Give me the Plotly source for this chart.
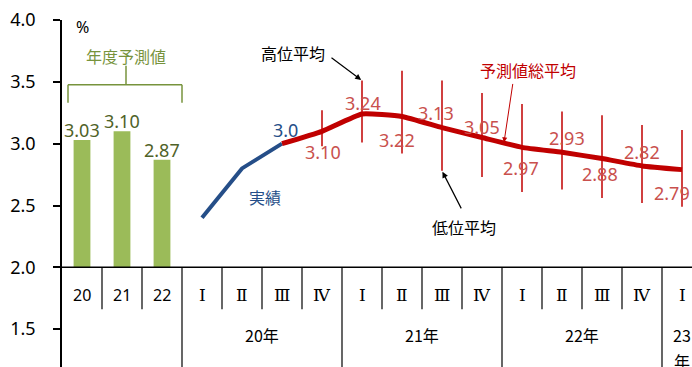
import plotly.graph_objects as go

# ---- data -------------------------------------------------------------
fy_labels = ["20", "21", "22"]
fy_values = [3.03, 3.10, 2.87]

quarter_labels = ["Ⅰ", "Ⅱ", "Ⅲ", "Ⅳ", "Ⅰ", "Ⅱ", "Ⅲ", "Ⅳ", "Ⅰ", "Ⅱ", "Ⅲ", "Ⅳ", "Ⅰ"]
year_labels = ["20年", "21年", "22年", "23年"]

actual_values = [2.40, 2.80, 3.00]                      # 20年 Ⅰ-Ⅲ
forecast_avg = [3.10, 3.24, 3.22, 3.13, 3.05, 2.97, 2.93, 2.88, 2.82, 2.79]   # 20年Ⅳ - 23年Ⅰ
high_avg = [3.27, 3.51, 3.59, 3.51, 3.41, 3.32, 3.26, 3.23, 3.15, 3.11]
low_avg = [2.98, 3.01, 2.92, 2.78, 2.73, 2.61, 2.63, 2.56, 2.52, 2.49]

# ---- layout helpers ---------------------------------------------------
FONT = "Noto Sans, Noto Sans CJK JP, sans-serif"
JP = "Noto Sans CJK JP, sans-serif"
ROMAN = "DejaVu Serif, Liberation Serif, serif"
GREEN_BAR = "#9BBB59"
GREEN_TXT = "#77933C"
GREEN_VAL = "#4F6228"
BLUE = "#254E88"
RED = "#C00000"
RED_TXT = "#C9504D"
BASE = 2.0
Y_MIN = 1.194

n_fy = len(fy_labels)
q_x = [n_fy + i for i in range(len(quarter_labels))]
act_x = q_x[:len(actual_values)]
fc_x = q_x[len(actual_values):len(actual_values) + len(forecast_avg)]

fig = go.Figure()

# fiscal-year bars
fig.add_trace(go.Bar(
    x=list(range(n_fy)), y=[v - BASE for v in fy_values], base=BASE,
    width=0.42, marker=dict(color=GREEN_BAR, line=dict(width=0)),
    hoverinfo="skip", showlegend=False,
))

# high / low range bars
rx, ry = [], []
for x, lo, hi in zip(fc_x, low_avg, high_avg):
    rx += [x, x, None]
    ry += [lo, hi, None]
fig.add_trace(go.Scatter(x=rx, y=ry, mode="lines",
                         line=dict(color=RED, width=1.5),
                         hoverinfo="skip", showlegend=False))

# actual results
fig.add_trace(go.Scatter(x=act_x, y=actual_values, mode="lines",
                         line=dict(color=BLUE, width=4),
                         hoverinfo="skip", showlegend=False))

# forecast average (continues from the last actual value)
fig.add_trace(go.Scatter(x=[act_x[-1]] + fc_x, y=[actual_values[-1]] + forecast_avg,
                         mode="lines",
                         line=dict(color=RED, width=5, shape="spline", smoothing=0.4),
                         hoverinfo="skip", showlegend=False))

ann = []

# bar value labels
for i, v in enumerate(fy_values):
    ann.append(dict(x=i, y=v, text=f"{v:.2f}", showarrow=False, yanchor="middle",
                    yshift=10, font=dict(family=FONT, size=18, color=GREEN_VAL)))

# forecast value labels (pixel offsets keep them clear of the line)
label_off = [(1, -21), (1, 11), (-5, -24), (-6, 15), (0, 10),
             (-1, -21), (5, 14), (-2, -15), (0, 14), (-10, -23)]
for x, v, (dx, dy) in zip(fc_x, forecast_avg, label_off):
    ann.append(dict(x=x, y=v, text=f"{v:.2f}", showarrow=False, xshift=dx, yshift=dy,
                    font=dict(family=FONT, size=18, color=RED_TXT)))

# last actual value
ann.append(dict(x=act_x[-1], y=actual_values[-1], text=f"{actual_values[-1]:.1f}",
                showarrow=False, xshift=3, yshift=14,
                font=dict(family=FONT, size=18, color=BLUE)))
ann.append(dict(x=act_x[1] + 0.57, y=2.57, text="実績", showarrow=False,
                font=dict(family=JP, size=16, color=BLUE)))

# high / low / overall average callouts
ann.append(dict(x=5.275, y=3.734, text="高位平均", showarrow=False,
                font=dict(family=JP, size=16, color="black")))
ann.append(dict(x=fc_x[1], y=high_avg[1], ax=-32, ay=-24, text="", showarrow=True,
                arrowhead=2, arrowsize=1, arrowwidth=1.2, arrowcolor="black", standoff=1))
ann.append(dict(x=9.55, y=2.323, text="低位平均", showarrow=False,
                font=dict(family=JP, size=16, color="black")))
ann.append(dict(x=fc_x[3], y=low_avg[3], ax=20, ay=39, text="", showarrow=True,
                arrowhead=2, arrowsize=1, arrowwidth=1.2, arrowcolor="black", standoff=1))
ann.append(dict(x=11.15, y=3.597, text="予測値総平均", showarrow=False,
                font=dict(family=JP, size=16, color=RED)))
ann.append(dict(x=10.55, y=3.01, ax=9, ay=-60, text="", showarrow=True,
                arrowhead=2, arrowsize=1, arrowwidth=1, arrowcolor=RED, standoff=0))

# fiscal-year bracket
shapes = []
br_y, br_end, br_top = 3.476, 3.33, 3.63
shapes += [
    dict(type="line", x0=-0.35, x1=2.5, y0=br_y, y1=br_y),
    dict(type="line", x0=-0.35, x1=-0.35, y0=br_y, y1=br_end),
    dict(type="line", x0=2.5, x1=2.5, y0=br_y, y1=br_end),
    dict(type="line", x0=1.1, x1=1.1, y0=br_y, y1=br_top),
]
for s in shapes:
    s.update(xref="x", yref="y", line=dict(color=GREEN_TXT, width=1.5))
ann.append(dict(x=1.1, y=3.71, text="年度予測値", showarrow=False,
                font=dict(family=JP, size=16, color=GREEN_TXT)))
ann.append(dict(xref="paper", yref="y", x=0.0, y=3.94, xanchor="left", xshift=12,
                text="%", showarrow=False, font=dict(family=FONT, size=16, color="black")))

# category axis (two rows)
AX = dict(color="black", width=1.5)
row1_bottom = 1.66
shapes.append(dict(type="line", xref="x", yref="y", x0=-0.5, x1=16, y0=BASE, y1=BASE, line=AX))
group_edges = [n_fy - 0.5, n_fy + 3.5, n_fy + 7.5, n_fy + 11.5]
for k in range(1, n_fy + len(quarter_labels)):
    xb = k - 0.5
    yb = Y_MIN if xb in group_edges else row1_bottom
    shapes.append(dict(type="line", xref="x", yref="y", x0=xb, x1=xb, y0=BASE, y1=yb,
                       line=dict(color="black", width=1.2)))

row1_y = 1.78
for i, t in enumerate(fy_labels):
    ann.append(dict(x=i, y=row1_y, text=t, showarrow=False,
                    font=dict(family=FONT, size=16, color="black")))
for x, t in zip(q_x, quarter_labels):
    ann.append(dict(x=x, y=row1_y, text=t, showarrow=False,
                    font=dict(family=ROMAN, size=17, color="black")))

year_centers = [n_fy + 1.5, n_fy + 5.5, n_fy + 9.5, n_fy + 12]
row2_y = 1.455
yfont = dict(family=JP, size=16, color="black")
for xc, t in zip(year_centers[:-1], year_labels[:-1]):
    ann.append(dict(x=xc, y=row2_y, text=t, showarrow=False, font=yfont))
# the last column is only one quarter wide, so its label wraps onto two lines
last = year_labels[-1]
ann.append(dict(x=year_centers[-1], y=row2_y, text=last[:-1], showarrow=False, font=yfont))
ann.append(dict(x=year_centers[-1], y=row2_y, text=last[-1], showarrow=False,
                yshift=-26, font=yfont))

fig.update_layout(
    width=692, height=367,
    margin=dict(l=62, r=0, t=20, b=0),
    paper_bgcolor="white", plot_bgcolor="white",
    showlegend=False,
    shapes=shapes, annotations=ann,
    xaxis=dict(visible=False, range=[-0.5, 15.25], fixedrange=True),
    yaxis=dict(range=[Y_MIN, 4.0], tickvals=[1.5, 2.0, 2.5, 3.0, 3.5, 4.0],
               ticktext=["1.5", "2.0", "2.5", "3.0", "3.5", "4.0"],
               ticks="outside", ticklen=7, tickwidth=1.5, tickcolor="black",
               showline=True, linecolor="black", linewidth=1.5,
               showgrid=False, zeroline=False, ticklabelstandoff=14,
               tickfont=dict(family=FONT, size=18, color="black"), fixedrange=True),
)

fig.write_html("out.html", config={"displayModeBar": False})
